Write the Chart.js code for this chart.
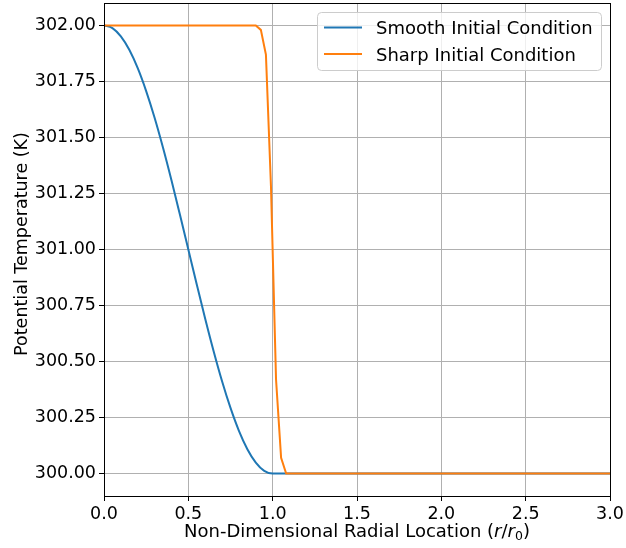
<!DOCTYPE html>
<html>
<head>
<meta charset="utf-8">
<script src="https://cdn.jsdelivr.net/npm/chart.js@4/dist/chart.umd.min.js"></script>
<style>
  body { margin: 0; background: #fff; }
  canvas { display: block; }
</style>
</head>
<body>
<canvas id="profile" width="626" height="548"></canvas>
<script>
// radial profiles of potential temperature
const smoothR = [0, 0.05, 0.1, 0.15, 0.2, 0.25, 0.3, 0.35, 0.4, 0.45, 0.5, 0.55, 0.6, 0.65, 0.7, 0.75, 0.8, 0.85, 0.9, 0.95, 1.0, 3.0];
const smoothT = [302.0, 301.988, 301.951, 301.891, 301.809, 301.707, 301.588, 301.454, 301.309, 301.156, 301.0,
                 300.844, 300.691, 300.546, 300.412, 300.293, 300.191, 300.109, 300.049, 300.012, 300.0, 300.0];
const sharpR = [0, 0.9, 0.93, 0.96, 0.99, 1.02, 1.05, 1.08, 3.0];
const sharpT = [302.0, 302.0, 301.98, 301.87, 301.28, 300.42, 300.07, 300.0, 300.0];
const xTicks = [0, 0.5, 1.0, 1.5, 2.0, 2.5, 3.0];
const yTicks = [300, 300.25, 300.5, 300.75, 301, 301.25, 301.5, 301.75, 302];

const seriesNames = ['Smooth Initial Condition', 'Sharp Initial Condition'];
const BLUE = '#1f77b4';
const ORANGE = '#ff7f0e';
const FONT = '"DejaVu Sans", sans-serif';

const toPoints = (xs, ys) => xs.map((x, i) => ({x: x, y: ys[i]}));

// no extra room for the edge tick labels, the plot box is placed by hand
const noEdgePadding = (scale) => {
  scale.paddingTop = 0;
  scale.paddingBottom = 0;
  scale.paddingLeft = 0;
  scale.paddingRight = 0;
};

// frame, axis titles and the in-plot legend
const decorations = {
  id: 'decorations',
  afterDraw(chart) {
    const ctx = chart.ctx;
    const a = chart.chartArea;
    ctx.save();

    ctx.strokeStyle = '#000';
    ctx.lineWidth = 1;
    ctx.strokeRect(Math.round(a.left) + 0.5, Math.round(a.top) + 0.5,
                   Math.round(a.right - a.left), Math.round(a.bottom - a.top));

    ctx.fillStyle = '#000';
    ctx.textBaseline = 'alphabetic';

    // x title with italic r/r0
    const parts = [
      {t: 'Non-Dimensional Radial Location (', f: '18px ' + FONT, dy: 0},
      {t: 'r', f: 'italic 18px ' + FONT, dy: 0},
      {t: '/', f: '18px ' + FONT, dy: 0},
      {t: 'r', f: 'italic 18px ' + FONT, dy: 0},
      {t: '0', f: '12.5px ' + FONT, dy: 3},
      {t: ')', f: '18px ' + FONT, dy: 0}
    ];
    let total = 0;
    parts.forEach(p => { ctx.font = p.f; p.w = ctx.measureText(p.t).width; total += p.w; });
    let x = (a.left + a.right) / 2 - total / 2;
    ctx.textAlign = 'left';
    parts.forEach(p => { ctx.font = p.f; ctx.fillText(p.t, x, 537 + p.dy); x += p.w; });

    // y title
    ctx.save();
    ctx.translate(27, 244);
    ctx.rotate(-Math.PI / 2);
    ctx.font = '17.5px ' + FONT;
    ctx.textAlign = 'center';
    ctx.fillText('Potential Temperature (K)', 0, 0);
    ctx.restore();

    // legend
    ctx.beginPath();
    ctx.roundRect(317.5, 12.5, 284, 58, 4);
    ctx.fillStyle = 'rgba(255,255,255,0.8)';
    ctx.fill();
    ctx.strokeStyle = '#cccccc';
    ctx.lineWidth = 1;
    ctx.stroke();

    [BLUE, ORANGE].forEach((c, i) => {
      const yy = 27.5 + i * 26.5;
      ctx.beginPath();
      ctx.moveTo(324, yy);
      ctx.lineTo(362, yy);
      ctx.strokeStyle = c;
      ctx.lineWidth = 2;
      ctx.stroke();
      ctx.fillStyle = '#000';
      ctx.font = '18px ' + FONT;
      ctx.textAlign = 'left';
      ctx.fillText(seriesNames[i], 376, yy + 6.5);
    });

    ctx.restore();
  }
};

new Chart(document.getElementById('profile'), {
  type: 'line',
  data: {
    datasets: [
      {
        label: seriesNames[0],
        data: toPoints(smoothR, smoothT),
        borderColor: BLUE,
        borderWidth: 2,
        pointRadius: 0,
        cubicInterpolationMode: 'monotone',
        order: 1
      },
      {
        label: seriesNames[1],
        data: toPoints(sharpR, sharpT),
        borderColor: ORANGE,
        borderWidth: 2,
        pointRadius: 0,
        tension: 0,
        order: 0
      }
    ]
  },
  options: {
    responsive: false,
    animation: false,
    devicePixelRatio: 1,
    layout: { padding: { top: 3, right: 16, bottom: 0, left: 0 } },
    plugins: {
      legend: { display: false },
      tooltip: { enabled: false }
    },
    scales: {
      x: {
        type: 'linear',
        min: 0,
        max: 3,
        afterBuildTicks: (scale) => { scale.ticks = xTicks.map(v => ({value: v})); },
        afterFit: (scale) => { scale.height = 52; noEdgePadding(scale); },
        grid: { color: '#b0b0b0', tickColor: '#000', tickLength: 5, lineWidth: 1 },
        border: { display: false },
        ticks: {
          color: '#000',
          font: { family: FONT, size: 17.5 },
          padding: 3,
          maxRotation: 0,
          callback: (v) => Number(v).toFixed(1)
        }
      },
      y: {
        type: 'linear',
        min: 299.9,
        max: 302.1,
        afterBuildTicks: (scale) => { scale.ticks = yTicks.map(v => ({value: v})); },
        afterFit: (scale) => { scale.width = 104; noEdgePadding(scale); },
        grid: { color: '#b0b0b0', tickColor: '#000', tickLength: 5, lineWidth: 1 },
        border: { display: false },
        ticks: {
          color: '#000',
          font: { family: FONT, size: 17.5 },
          padding: 3,
          callback: (v) => Number(v).toFixed(2)
        }
      }
    }
  },
  plugins: [decorations]
});
</script>
</body>
</html>
